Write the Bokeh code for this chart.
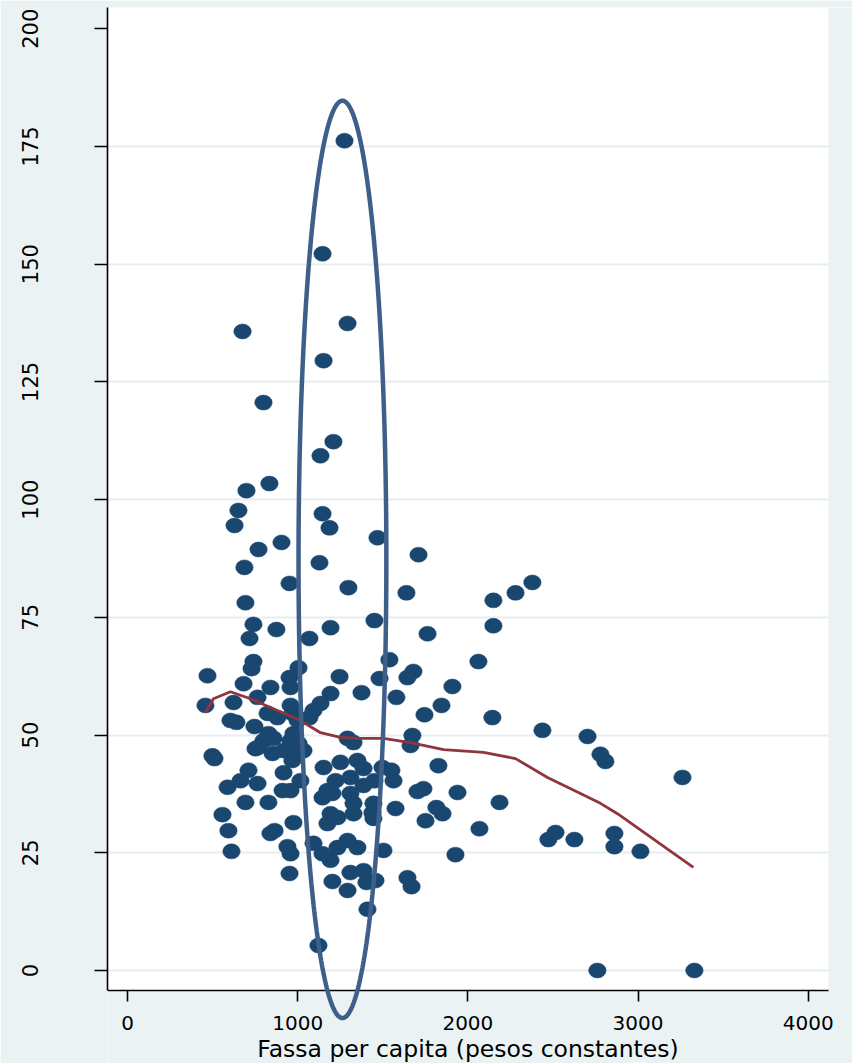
import numpy as np
from bokeh.plotting import figure
from bokeh.models import (ColumnDataSource, FixedTicker, PolyAnnotation,
                          BoxAnnotation, Range1d)
from bokeh.embed import file_html
from bokeh.resources import INLINE

# Fassa per capita (constant pesos) for each unit
fassa = [
    1275, 1146, 1293, 676, 1152, 799, 1210, 1134, 834, 699,
    652, 629, 1146, 1187, 1469, 770, 905, 1710, 687, 1128,
    952, 1298, 2379, 2280, 1639, 2150, 693, 1451, 740, 1193,
    2150, 875, 1763, 717, 1069, 740, 729, 1005, 1539, 1680,
    2062, 1645, 1481, 1246, 952, 1909, 682, 840, 958, 470,
    1193, 1375, 1580, 764, 458, 1845, 958, 1134, 623, 605,
    640, 746, 823, 881, 999, 1069, 1093, 1745, 2144, 2438,
    2703, 1674, 1663, 499, 511, 2779, 2808, 1827, 3261, 1739,
    1704, 1939, 2186, 1815, 1851, 1751, 2068, 2515, 2473, 2626,
    2861, 2861, 3014, 1927, 1645, 1669, 2761, 3331, 799, 858,
    752, 852, 917, 958, 975, 969, 1005, 711, 588, 664,
    764, 917, 1016, 911, 958, 693, 828, 558, 975, 1152,
    1175, 1146, 1193, 1234, 1293, 1328, 1251, 1351, 1387, 1222,
    1310, 1498, 1551, 1563, 1451, 1387, 1310, 1204, 1575, 1445,
    1439, 1328, 593, 611, 840, 864, 952, 1122, 1204, 958,
    940, 1175, 1093, 1193, 1234, 1445, 1293, 1351, 1504, 1146,
    1310, 1387, 1404, 1457, 1293, 1410, 1328, 828, 764, 1034,
    1005, 969,
]
# Outcome value for each unit
valor = [
    176.2, 152.2, 137.4, 135.7, 129.5, 120.6, 112.3, 109.3, 103.4, 101.9,
    97.7, 94.5, 97.0, 94.0, 91.9, 89.4, 90.9, 88.3, 85.6, 86.6,
    82.2, 81.3, 82.4, 80.2, 80.2, 78.6, 78.1, 74.3, 73.5, 72.8,
    73.2, 72.4, 71.5, 70.5, 70.5, 65.6, 64.1, 64.3, 66.0, 63.5,
    65.6, 62.2, 62.0, 62.4, 62.2, 60.3, 60.9, 60.1, 60.1, 62.6,
    58.8, 59.0, 58.0, 58.0, 56.3, 56.3, 56.3, 56.7, 56.9, 53.1,
    52.7, 51.8, 54.6, 53.7, 53.1, 53.7, 55.2, 54.3, 53.7, 51.0,
    49.7, 49.9, 47.8, 45.6, 45.0, 45.9, 44.4, 43.5, 41.0, 38.6,
    38.0, 37.8, 35.7, 34.6, 33.3, 31.8, 30.1, 29.3, 27.8, 27.8,
    29.1, 26.3, 25.3, 24.6, 19.7, 17.8, 0.0, 0.0, 48.8, 49.3,
    47.1, 46.1, 46.7, 48.8, 50.3, 44.6, 46.1, 42.5, 38.9, 40.3,
    39.7, 42.0, 40.3, 38.2, 38.2, 35.7, 35.7, 33.1, 31.4, 43.1,
    38.2, 36.7, 33.3, 32.5, 49.3, 48.4, 44.2, 44.6, 42.9, 40.3,
    41.0, 43.1, 42.5, 40.3, 40.3, 39.3, 37.6, 37.6, 34.4, 35.5,
    33.5, 33.3, 29.7, 25.3, 29.1, 29.7, 20.6, 5.3, 18.9, 24.8,
    26.3, 31.2, 27.0, 23.4, 26.1, 32.3, 27.6, 26.1, 25.5, 24.8,
    20.8, 21.2, 18.7, 19.1, 17.0, 13.0, 35.5, 50.3, 47.3, 46.7,
    48.2, 54.6,
]

# Lowess smoother
lowess_x = [458, 505, 605, 723, 881, 1016, 1134, 1251, 1351, 1504,
            1663, 1857, 2092, 2280, 2468, 2779, 2879, 3325]
lowess_y = [54.8, 57.7, 59.2, 57.7, 55.2, 53.1, 50.5, 49.5, 49.3, 49.3,
            48.4, 46.9, 46.3, 45.0, 41.0, 35.5, 33.3, 21.9]

x_ticks = [0, 1000, 2000, 3000, 4000]
y_ticks = [0, 25, 50, 75, 100, 125, 150, 175, 200]
grid_ticks = [0, 25, 50, 75, 100, 125, 150, 175]

# Plot region in data units; the canvas runs a little further right and
# lower so the last tick label and the highlight ellipse are not cut off.
X_MIN, X_MAX = -117.5, 4119
X_CANVAS_MAX = 4260
Y_AXIS_MIN, Y_MAX = -4.25, 204.5
Y_CANVAS_MIN = -19.75

# Highlight ellipse: centre and semi-axes in data units
ELL_CX, ELL_CY = 1263, 87.3
ELL_RX, ELL_RY = 258, 97.4

BG = "#EAF2F3"
NAVY = "#1A476F"
CRANBERRY = "#90353B"
EDKBLUE = "#3E5F8A"
FONT = "DejaVu Sans"

p = figure(
    frame_width=745, frame_height=1056,
    x_range=Range1d(X_MIN, X_CANVAS_MAX), y_range=Range1d(Y_CANVAS_MIN, Y_MAX),
    output_backend="svg", toolbar_location=None,
    background_fill_color="white", border_fill_color=BG,
    min_border_left=107, min_border_right=0,
    min_border_top=7, min_border_bottom=0,
)
p.outline_line_color = None

# margins inside the canvas painted like the surrounding page
p.add_layout(BoxAnnotation(top=Y_AXIS_MIN, fill_color=BG, fill_alpha=1,
                           line_color=None, level="glyph"))
p.add_layout(BoxAnnotation(left=X_MAX, fill_color=BG, fill_alpha=1,
                           line_color=None, level="glyph"))

src = ColumnDataSource(dict(x=fassa, y=valor))
p.ellipse(x="x", y="y", width=17.5, height=15,
          width_units="screen", height_units="screen",
          source=src, fill_color=NAVY, line_color=NAVY, line_width=0.5)

p.line(lowess_x, lowess_y, line_color=CRANBERRY, line_width=2.8)

theta = np.linspace(0, 2 * np.pi, 361)
ell_xs = (ELL_CX + ELL_RX * np.cos(theta)).tolist()
ell_ys = (ELL_CY + ELL_RY * np.sin(theta)).tolist()
p.add_layout(PolyAnnotation(xs=ell_xs, ys=ell_ys, fill_alpha=0,
                            line_color=EDKBLUE, line_alpha=1,
                            line_width=4.5))

# grid
p.xgrid.visible = False
p.ygrid.ticker = FixedTicker(ticks=grid_ticks)
p.ygrid.grid_line_color = "#E6EEF1"
p.ygrid.grid_line_width = 2

# axes
for ax in (p.xaxis[0], p.yaxis[0]):
    ax.axis_line_color = "black"
    ax.axis_line_width = 1.6
    ax.major_tick_line_color = "black"
    ax.major_tick_line_width = 1.6
    ax.major_tick_in = 0
    ax.minor_tick_line_color = None
    ax.major_label_text_font = FONT
    ax.major_label_text_color = "black"

p.xaxis.fixed_location = Y_AXIS_MIN
p.xaxis.bounds = (X_MIN, X_MAX)
p.xaxis.ticker = FixedTicker(ticks=x_ticks)
p.xaxis.major_tick_out = 11
p.xaxis.major_label_standoff = 14
p.xaxis.major_label_text_font_size = "20px"
p.xaxis.axis_label = "Fassa per capita (pesos constantes)"
p.xaxis.axis_label_text_font = FONT
p.xaxis.axis_label_text_font_size = "23.5px"
p.xaxis.axis_label_text_font_style = "normal"
p.xaxis.axis_label_text_color = "black"
p.xaxis.axis_label_standoff = 2

p.yaxis.bounds = (Y_AXIS_MIN, Y_MAX)
p.yaxis.ticker = FixedTicker(ticks=y_ticks)
p.yaxis.major_tick_out = 13
p.yaxis.major_label_orientation = "vertical"
p.yaxis.major_label_standoff = 56
p.yaxis.major_label_text_font_size = "21px"

open("out.html", "w").write(file_html(p, INLINE))
